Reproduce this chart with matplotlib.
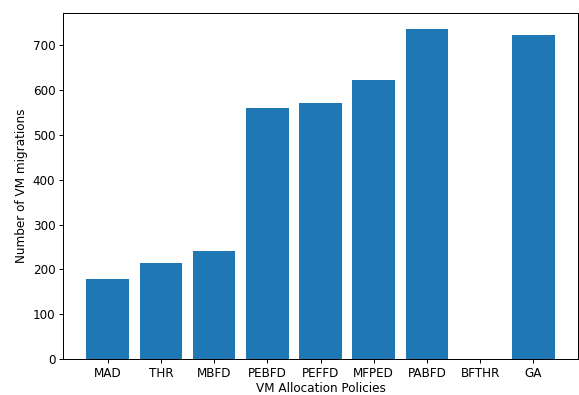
import matplotlib
matplotlib.use('Agg')
import matplotlib.pyplot as plt

# VM migration counts per allocation policy
policies = ['MAD', 'THR', 'MBFD', 'PEBFD', 'PEFFD', 'MFPED', 'PABFD', 'BFTHR', 'GA']
migrations = [178, 215, 242, 559, 572, 623, 735, 0, 722]

plt.rcParams['font.size'] = 12
plt.rcParams['axes.linewidth'] = 1.0
plt.rcParams['xtick.major.size'] = 4.2
plt.rcParams['ytick.major.size'] = 4.2
plt.rcParams['xtick.major.width'] = 1.0
plt.rcParams['ytick.major.width'] = 1.0

fig = plt.figure(figsize=(579 / 72, 395 / 72), dpi=72)
ax = fig.add_axes([63 / 579, 36 / 395, 515 / 579, 346 / 395])

ax.bar(policies, migrations, color='#1f77b4')

ax.set_xlabel('VM Allocation Policies', labelpad=2.5)
ax.set_ylabel('Number of VM migrations', labelpad=5)

fig.savefig('out.png', dpi=72)
